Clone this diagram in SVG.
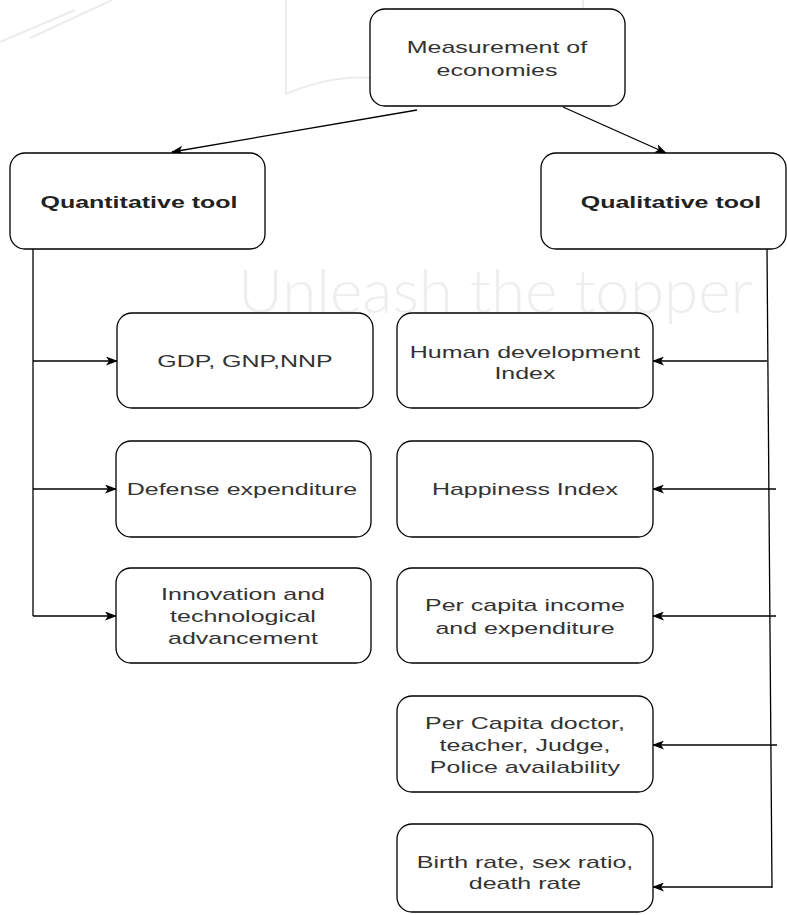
<svg xmlns="http://www.w3.org/2000/svg" width="787" height="915" viewBox="0 0 787 915">
<style>
.bg{fill:#ffffff}
.box{fill:#ffffff;stroke:#000000;stroke-width:1.3}
.t{font-family:"Liberation Sans",Arial,sans-serif;font-size:17px;fill:#333333;text-anchor:middle;transform-box:fill-box;transform-origin:center;transform:scaleX(1.47)}
.b{font-weight:bold;fill:#222222}
.c{fill:none;stroke:#000000;stroke-width:1.3}
.wm{fill:none;stroke:#ececec;stroke-width:2}
.wmt{font-family:Lato,"Liberation Sans",sans-serif;font-weight:300;fill:#eeeeee}
</style>
<defs>
<marker id="ar" viewBox="0 0 12 9" refX="11" refY="4.5" markerWidth="12" markerHeight="9" orient="auto" markerUnits="userSpaceOnUse">
<path d="M0,0 L12,4.5 L0,9 L3,4.5 Z" fill="#000000"/>
</marker>
</defs>
<rect class="bg" x="0" y="0" width="787" height="915"/>
<g id="watermark">
<path class="wm" d="M0,42 L75,10 M30,38 L112,0"/>
<path class="wm" d="M286,0 V94 Q360,62 432,92 Q505,62 583,92 V0"/>
<text class="wmt" x="238" y="313" font-size="62">Unleash the topper</text>
</g>
<g id="connectors">
<path class="c" d="M417,110 L172,152" marker-end="url(#ar)"/>
<path class="c" d="M563,107 L666,153" marker-end="url(#ar)"/>
<path class="c" d="M33,249 V616"/>
<path class="c" d="M33,361 H117" marker-end="url(#ar)"/>
<path class="c" d="M33,489 H116" marker-end="url(#ar)"/>
<path class="c" d="M33,616 H116" marker-end="url(#ar)"/>
<path class="c" d="M767,249 L772,888"/>
<path class="c" d="M767,361 H653" marker-end="url(#ar)"/>
<path class="c" d="M776,489 H653" marker-end="url(#ar)"/>
<path class="c" d="M776,616 H653" marker-end="url(#ar)"/>
<path class="c" d="M777,745 H653" marker-end="url(#ar)"/>
<path class="c" d="M772,887 H653" marker-end="url(#ar)"/>
</g>
<g id="measurement">
<rect class="box" x="370" y="9" width="255" height="97" rx="15"/>
<text class="t" x="497" y="53">Measurement of</text>
<text class="t" x="497" y="76">economies</text>
</g>
<g id="quantitative">
<rect class="box" x="10" y="153" width="255" height="96" rx="15"/>
<text class="t b" x="139" y="208">Quantitative tool</text>
</g>
<g id="qualitative">
<rect class="box" x="541" y="153" width="245" height="96" rx="15"/>
<text class="t b" x="671" y="208">Qualitative tool</text>
</g>
<g id="gdp">
<rect class="box" x="117" y="313" width="256" height="95" rx="15"/>
<text class="t" x="245" y="367">GDP, GNP,NNP</text>
</g>
<g id="defense">
<rect class="box" x="116" y="441" width="255" height="96" rx="15"/>
<text class="t" x="242" y="495">Defense expenditure</text>
</g>
<g id="innovation">
<rect class="box" x="116" y="568" width="255" height="95" rx="15"/>
<text class="t" x="243" y="600">Innovation and</text>
<text class="t" x="243" y="622">technological</text>
<text class="t" x="243" y="644">advancement</text>
</g>
<g id="hdi">
<rect class="box" x="397" y="313" width="256" height="95" rx="15"/>
<text class="t" x="525" y="358">Human development</text>
<text class="t" x="525" y="379">Index</text>
</g>
<g id="happiness">
<rect class="box" x="397" y="441" width="256" height="96" rx="15"/>
<text class="t" x="525" y="495">Happiness Index</text>
</g>
<g id="percapita">
<rect class="box" x="397" y="568" width="256" height="95" rx="15"/>
<text class="t" x="525" y="611">Per capita income</text>
<text class="t" x="525" y="634">and expenditure</text>
</g>
<g id="police">
<rect class="box" x="397" y="696" width="256" height="96" rx="15"/>
<text class="t" x="525" y="729">Per Capita doctor,</text>
<text class="t" x="525" y="751">teacher, Judge,</text>
<text class="t" x="525" y="773">Police availability</text>
</g>
<g id="birth">
<rect class="box" x="397" y="824" width="256" height="88" rx="15"/>
<text class="t" x="525" y="868">Birth rate, sex ratio,</text>
<text class="t" x="525" y="889">death rate</text>
</g>
</svg>
